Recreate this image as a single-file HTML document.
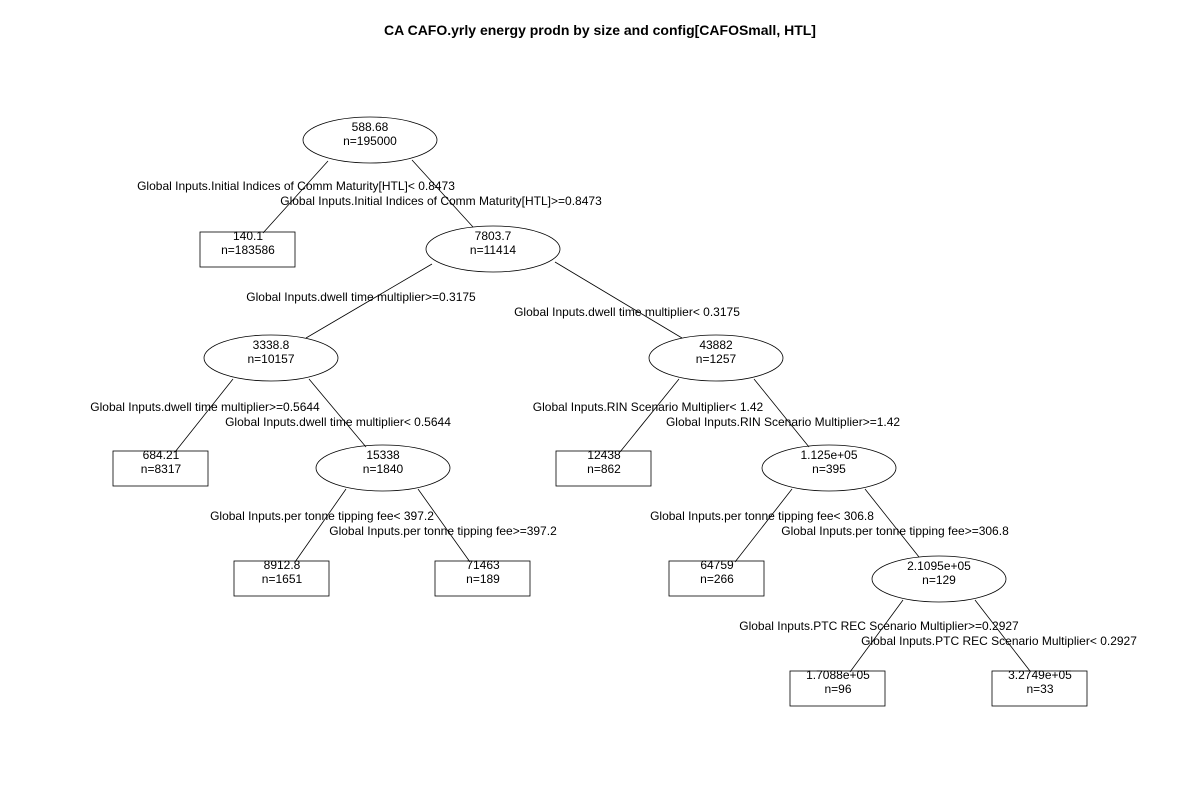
<!DOCTYPE html>
<html><head><meta charset="utf-8"><style>
html,body{margin:0;padding:0;background:#fff}
svg text{font-family:"Liberation Sans",Arial,sans-serif;font-size:12px;fill:#000}
</style></head><body>
<svg width="1200" height="800" viewBox="0 0 1200 800" xmlns="http://www.w3.org/2000/svg">
<rect width="1200" height="800" fill="#fff"/>
<text x="600" y="35" text-anchor="middle" style="font-weight:bold;font-size:14px">CA CAFO.yrly energy prodn by size and config[CAFOSmall, HTL]</text>
<g stroke="#000" stroke-width="0.8" fill="none">
<line x1="328" y1="161" x2="263" y2="233"/>
<line x1="412" y1="160" x2="473" y2="227"/>
<line x1="432" y1="264" x2="306" y2="338"/>
<line x1="555" y1="262" x2="682" y2="338"/>
<line x1="233" y1="379" x2="175" y2="452"/>
<line x1="309" y1="379" x2="366" y2="447"/>
<line x1="679" y1="379" x2="620" y2="452"/>
<line x1="754" y1="379" x2="809" y2="447"/>
<line x1="346" y1="489" x2="295" y2="562"/>
<line x1="418" y1="489" x2="470" y2="562"/>
<line x1="792" y1="489" x2="735" y2="562"/>
<line x1="865" y1="489" x2="919" y2="557"/>
<line x1="903" y1="600" x2="850" y2="672"/>
<line x1="975" y1="600" x2="1030" y2="671"/>
<ellipse cx="370" cy="140" rx="67" ry="23"/>
<ellipse cx="493" cy="249" rx="67" ry="23"/>
<ellipse cx="271" cy="358" rx="67" ry="23"/>
<ellipse cx="716" cy="358" rx="67" ry="23"/>
<ellipse cx="383" cy="468" rx="67" ry="23"/>
<ellipse cx="829" cy="468" rx="67" ry="23"/>
<ellipse cx="939" cy="579" rx="67" ry="23"/>
<rect x="200" y="232" width="95" height="35"/>
<rect x="113" y="451" width="95" height="35"/>
<rect x="556" y="451" width="95" height="35"/>
<rect x="234" y="561" width="95" height="35"/>
<rect x="435" y="561" width="95" height="35"/>
<rect x="669" y="561" width="95" height="35"/>
<rect x="790" y="671" width="95" height="35"/>
<rect x="992" y="671" width="95" height="35"/>
</g>
<g text-anchor="middle">
<text x="370" y="131">588.68</text><text x="370" y="145">n=195000</text>
<text x="493" y="240">7803.7</text><text x="493" y="254">n=11414</text>
<text x="271" y="349">3338.8</text><text x="271" y="363">n=10157</text>
<text x="716" y="349">43882</text><text x="716" y="363">n=1257</text>
<text x="383" y="459">15338</text><text x="383" y="473">n=1840</text>
<text x="829" y="459">1.125e+05</text><text x="829" y="473">n=395</text>
<text x="939" y="570">2.1095e+05</text><text x="939" y="584">n=129</text>
<text x="248" y="240">140.1</text><text x="248" y="254">n=183586</text>
<text x="161" y="459">684.21</text><text x="161" y="473">n=8317</text>
<text x="604" y="459">12438</text><text x="604" y="473">n=862</text>
<text x="282" y="569">8912.8</text><text x="282" y="583">n=1651</text>
<text x="483" y="569">71463</text><text x="483" y="583">n=189</text>
<text x="717" y="569">64759</text><text x="717" y="583">n=266</text>
<text x="838" y="679">1.7088e+05</text><text x="838" y="693">n=96</text>
<text x="1040" y="679">3.2749e+05</text><text x="1040" y="693">n=33</text>
<text x="296" y="190">Global Inputs.Initial Indices of Comm Maturity[HTL]&lt; 0.8473</text>
<text x="441" y="205">Global Inputs.Initial Indices of Comm Maturity[HTL]&gt;=0.8473</text>
<text x="361" y="301">Global Inputs.dwell time multiplier&gt;=0.3175</text>
<text x="627" y="316">Global Inputs.dwell time multiplier&lt; 0.3175</text>
<text x="205" y="411">Global Inputs.dwell time multiplier&gt;=0.5644</text>
<text x="338" y="426">Global Inputs.dwell time multiplier&lt; 0.5644</text>
<text x="648" y="411">Global Inputs.RIN Scenario Multiplier&lt; 1.42</text>
<text x="783" y="426">Global Inputs.RIN Scenario Multiplier&gt;=1.42</text>
<text x="322" y="520">Global Inputs.per tonne tipping fee&lt; 397.2</text>
<text x="443" y="535">Global Inputs.per tonne tipping fee&gt;=397.2</text>
<text x="762" y="520">Global Inputs.per tonne tipping fee&lt; 306.8</text>
<text x="895" y="535">Global Inputs.per tonne tipping fee&gt;=306.8</text>
<text x="879" y="630">Global Inputs.PTC REC Scenario Multiplier&gt;=0.2927</text>
<text x="999" y="645">Global Inputs.PTC REC Scenario Multiplier&lt; 0.2927</text>
</g>
</svg>
</body></html>
